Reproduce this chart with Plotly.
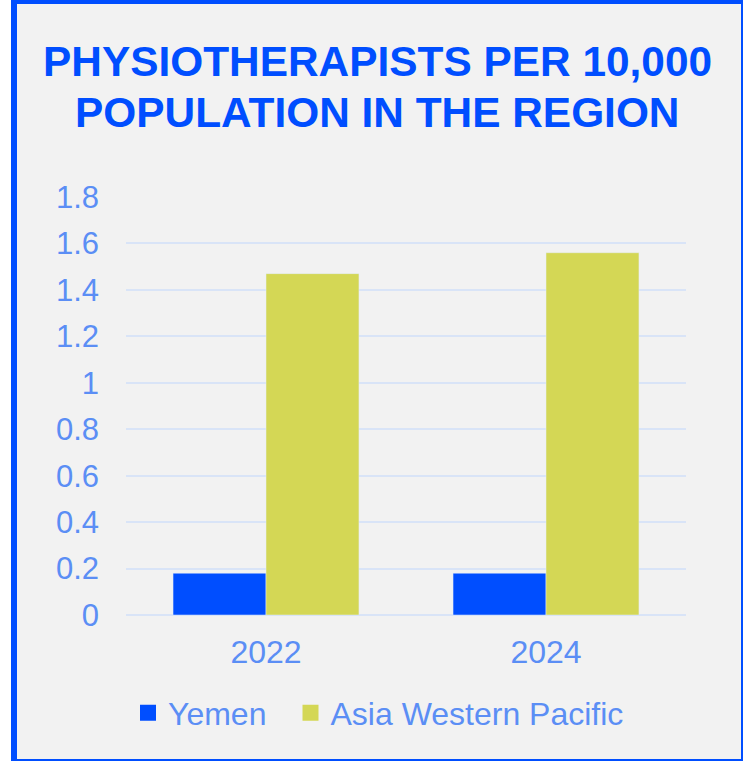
import plotly.graph_objects as go

years = ["2022", "2024"]
yemen = [0.18, 0.18]
asia_wp = [1.47, 1.56]
series_names = ["Yemen", "Asia Western Pacific"]
y_ticks = [0, 0.2, 0.4, 0.6, 0.8, 1, 1.2, 1.4, 1.6, 1.8]
title_lines = ["PHYSIOTHERAPISTS PER 10,000", "POPULATION IN THE REGION"]

BLUE = "#004EFF"
OLIVE = "#D4D755"
LABEL = "#5B8EF5"
GRID = "#D9E4F7"
BG = "#F2F2F2"
FONT = "Liberation Sans, Arial, sans-serif"

W, H = 743, 761
L, R, T, B = 126, 57, 197, 146
pw, ph = W - L - R, H - T - B


def px_x(x):
    return (x - L) / pw


def px_y(y):
    return (H - B - y) / ph


colors = [BLUE, OLIVE]
values = [yemen, asia_wp]
legend_ids = ["legend", "legend2"]

fig = go.Figure()
for name, vals, col in zip(series_names, values, colors):
    fig.add_trace(go.Bar(x=years, y=vals, name=name, marker_color=col,
                         showlegend=False, legendgroup=name))
# legend entries with larger square swatches, one legend per entry
for name, col, lid in zip(series_names, colors, legend_ids):
    fig.add_trace(go.Scatter(x=[None], y=[None], mode="markers", name=name,
                             legendgroup=name, legend=lid,
                             marker=dict(symbol="square", size=16, color=col)))

fig.add_shape(type="rect", xref="paper", yref="paper",
              x0=px_x(14), x1=px_x(744), y0=px_y(762), y1=px_y(1),
              line=dict(color=BLUE, width=6), fillcolor=BG, layer="below")

for line, yc in zip(title_lines, [62, 112]):
    fig.add_annotation(text=line, xref="paper", yref="paper",
                       x=px_x(377), y=px_y(yc), xanchor="center", yanchor="middle",
                       showarrow=False,
                       font=dict(family=FONT, size=42.4, color=BLUE, weight="bold"))

leg_common = dict(orientation="h", xanchor="left", y=px_y(713), yanchor="middle",
                  font=dict(size=32, color=LABEL), bgcolor="rgba(0,0,0,0)",
                  itemwidth=30)

fig.update_layout(
    width=W, height=H,
    margin=dict(l=L, r=R, t=T, b=B),
    paper_bgcolor="white",
    plot_bgcolor=BG,
    barmode="group",
    bargap=0.336,
    bargroupgap=0,
    font=dict(family=FONT, color=LABEL, size=32),
    legend=dict(x=px_x(128), **leg_common),
    legend2=dict(x=px_x(290.5), **leg_common),
    showlegend=True,
)
fig.update_yaxes(range=[0, 1.8], tickvals=y_ticks, ticktext=[f"{v:g}" for v in y_ticks],
                 showgrid=True, gridcolor=GRID, gridwidth=2,
                 zeroline=True, zerolinecolor=GRID, zerolinewidth=2,
                 showline=False, ticks="", ticklabelstandoff=26,
                 tickfont=dict(size=31, color=LABEL))
fig.update_xaxes(showgrid=False, showline=False, ticks="", ticklabelstandoff=15,
                 tickfont=dict(size=32, color=LABEL))

fig.write_html("out.html", config={"displayModeBar": False},
               post_script="document.body.style.margin='0px';")
